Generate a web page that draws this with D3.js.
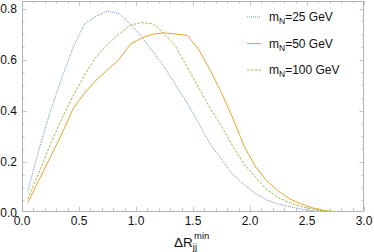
<!DOCTYPE html>
<html>
<head>
<meta charset="utf-8">
<script src="https://cdn.jsdelivr.net/npm/d3@7"></script>
<style>
  body { margin: 0; background: #fff; }
  svg { display: block; font-family: "Liberation Sans", Arial, sans-serif; }
</style>
</head>
<body>
<div id="figure"></div>
<script>
// deltaR bin centres
const dR = [0.05, 0.15, 0.25, 0.35, 0.45, 0.55, 0.65, 0.75, 0.85, 0.95,
  1.05, 1.15, 1.25, 1.35, 1.45, 1.55, 1.65, 1.75, 1.85, 1.95,
  2.05, 2.15, 2.25, 2.35, 2.45, 2.55, 2.65, 2.75, 2.85, 2.95]

const m25 = [0.085, 0.25, 0.40, 0.53, 0.65, 0.74, 0.77, 0.79, 0.78, 0.74,
  0.69, 0.63, 0.57, 0.50, 0.43, 0.35, 0.27, 0.21, 0.15, 0.11,
  0.075, 0.05, 0.035, 0.024, 0.015, 0.009, 0.005, 0.003, 0.001, 0.0005]

const m50 = [0.04, 0.13, 0.22, 0.31, 0.41, 0.47, 0.52, 0.56, 0.60, 0.66,
  0.685, 0.70, 0.705, 0.70, 0.695, 0.64, 0.56, 0.47, 0.37, 0.26,
  0.18, 0.125, 0.085, 0.055, 0.035, 0.02, 0.01, 0.005, 0.002, 0.001]

const m100 = [0.055, 0.16, 0.27, 0.37, 0.46, 0.54, 0.61, 0.66, 0.70, 0.735,
  0.745, 0.74, 0.70, 0.65, 0.57, 0.49, 0.41, 0.34, 0.26, 0.19,
  0.14, 0.09, 0.06, 0.04, 0.025, 0.015, 0.008, 0.004, 0.002, 0.001]

const seriesNames = ['25', '50', '100']
const xTicks = [0, 0.5, 1, 1.5, 2, 2.5, 3]
const yTicks = [0, 0.2, 0.4, 0.6, 0.8]

const series = [
  {name: seriesNames[0], values: m25, color: '#6f90c8', dash: '1,1'},
  {name: seriesNames[1], values: m50, color: '#eba32e', dash: null},
  {name: seriesNames[2], values: m100, color: '#9cbb45', dash: '2.5,1.5'}
]

const W = 374, H = 252
const fLeft = 22, fRight = 364, fTop = 1, fBottom = 211

const svg = d3.select('#figure').append('svg')
  .attr('width', W)
  .attr('height', H)

const x = d3.scaleLinear().domain([0, 3]).range([fLeft, fRight])
// y = 0 sits a hair below the frame, as in the original
const y = d3.scaleLinear().domain([0, 0.8]).range([213, 8.5])

svg.append('defs').append('clipPath').attr('id', 'clip')
  .append('rect')
  .attr('x', fLeft).attr('y', fTop)
  .attr('width', fRight - fLeft).attr('height', fBottom - fTop)

const frameColor = '#b4b4b4'

// ticks on all four sides, pointing inwards
const xMinor = d3.range(0, 3.0001, 0.1)
const yMinor = d3.range(0, 0.83, 0.05)
const ticks = svg.append('g').attr('stroke', frameColor).attr('stroke-width', 0.8)

xMinor.forEach(function(v) {
  const major = xTicks.some(t => Math.abs(t - v) < 1e-6)
  const len = major ? 4.5 : 2.5
  const px = Math.round(x(v)) + 0.5
  ticks.append('line').attr('x1', px).attr('x2', px).attr('y1', fBottom).attr('y2', fBottom - len)
  ticks.append('line').attr('x1', px).attr('x2', px).attr('y1', fTop).attr('y2', fTop + len)
})
yMinor.forEach(function(v) {
  if (y(v) > fBottom) return
  const major = yTicks.some(t => Math.abs(t - v) < 1e-6)
  const len = major ? 4.5 : 2.5
  const py = Math.round(y(v)) + 0.5
  ticks.append('line').attr('y1', py).attr('y2', py).attr('x1', fLeft).attr('x2', fLeft + len)
  ticks.append('line').attr('y1', py).attr('y2', py).attr('x1', fRight).attr('x2', fRight - len)
})

svg.append('rect')
  .attr('x', fLeft + 0.5).attr('y', fTop + 0.5)
  .attr('width', fRight - fLeft - 1).attr('height', fBottom - fTop)
  .attr('fill', 'none')
  .attr('stroke', frameColor)
  .attr('stroke-width', 1)

// tick labels
svg.append('g').selectAll('text')
  .data(xTicks)
  .enter()
  .append('text')
  .attr('x', d => x(d))
  .attr('y', 225)
  .attr('text-anchor', 'middle')
  .attr('font-size', 12)
  .attr('fill', '#111')
  .text(d => d.toFixed(1))

svg.append('g').selectAll('text')
  .data(yTicks)
  .enter()
  .append('text')
  .attr('x', 17)
  .attr('y', d => y(d) + 4.3)
  .attr('text-anchor', 'end')
  .attr('font-size', 12)
  .attr('fill', '#111')
  .text(d => d.toFixed(1))

// axis title
const title = svg.append('text')
  .attr('x', 174)
  .attr('y', 247)
  .attr('font-size', 13.5)
  .attr('fill', '#111')
title.append('tspan').text('ΔR')
title.append('tspan').attr('font-size', 9.5).attr('dy', 2.5).text('jj')
title.append('tspan').attr('font-size', 9.5).attr('dx', -3).attr('dy', -10.5).text('min')

// curves
const line = d3.line()
  .x((d, i) => x(dR[i]))
  .y(d => y(d))

svg.append('g')
  .attr('clip-path', 'url(#clip)')
  .selectAll('path')
  .data(series)
  .enter()
  .append('path')
  .attr('d', d => line(d.values))
  .attr('fill', 'none')
  .attr('stroke', d => d.color)
  .attr('stroke-width', 1)
  .attr('stroke-dasharray', d => d.dash)

// legend
const legend = svg.append('g')
series.forEach(function(s, i) {
  const ly = 17 + i * 26.5
  legend.append('line')
    .attr('x1', 247).attr('x2', 261)
    .attr('y1', ly).attr('y2', ly)
    .attr('stroke', s.color)
    .attr('stroke-width', 1)
    .attr('stroke-dasharray', s.dash)
  const t = legend.append('text')
    .attr('x', 269)
    .attr('y', ly + 4)
    .attr('font-size', 12)
    .attr('fill', '#111')
  t.append('tspan').text('m')
  t.append('tspan').attr('font-size', 8.5).attr('dy', 3).text('N')
  t.append('tspan').attr('dy', -3).text('=' + s.name + ' GeV')
})
</script>
</body>
</html>
